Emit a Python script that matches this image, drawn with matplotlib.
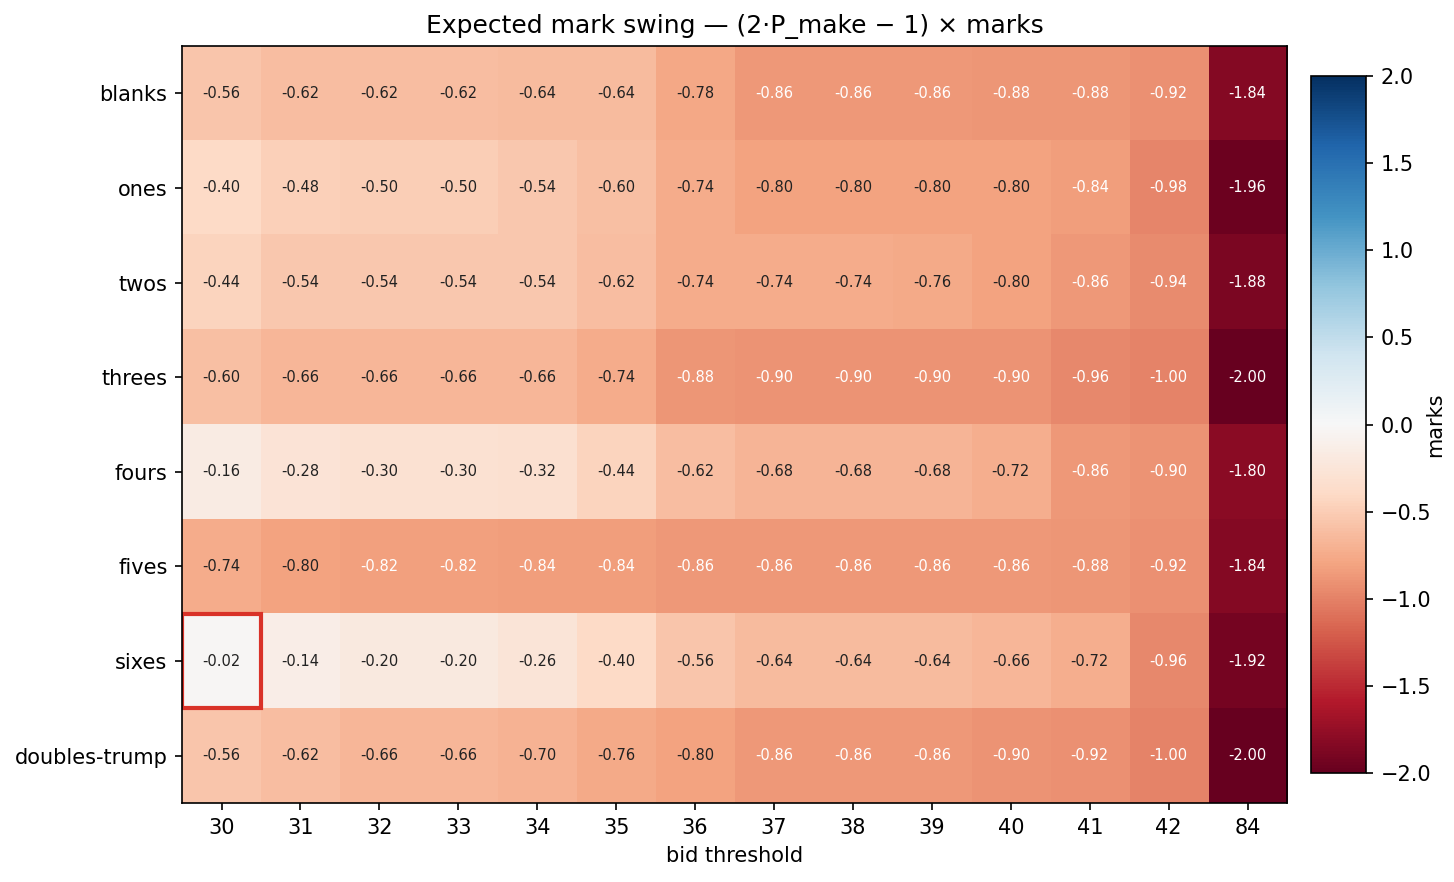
import matplotlib
matplotlib.use("Agg")
import matplotlib.pyplot as plt
import numpy as np
from matplotlib.patches import Rectangle

trumps = ["blanks", "ones", "twos", "threes", "fours", "fives", "sixes", "doubles-trump"]
thresholds = ["30", "31", "32", "33", "34", "35", "36", "37", "38", "39", "40", "41", "42", "84"]

blanks = [-0.56, -0.62, -0.62, -0.62, -0.64, -0.64, -0.78, -0.86, -0.86, -0.86, -0.88, -0.88, -0.92, -1.84]
ones = [-0.40, -0.48, -0.50, -0.50, -0.54, -0.60, -0.74, -0.80, -0.80, -0.80, -0.80, -0.84, -0.98, -1.96]
twos = [-0.44, -0.54, -0.54, -0.54, -0.54, -0.62, -0.74, -0.74, -0.74, -0.76, -0.80, -0.86, -0.94, -1.88]
threes = [-0.60, -0.66, -0.66, -0.66, -0.66, -0.74, -0.88, -0.90, -0.90, -0.90, -0.90, -0.96, -1.00, -2.00]
fours = [-0.16, -0.28, -0.30, -0.30, -0.32, -0.44, -0.62, -0.68, -0.68, -0.68, -0.72, -0.86, -0.90, -1.80]
fives = [-0.74, -0.80, -0.82, -0.82, -0.84, -0.84, -0.86, -0.86, -0.86, -0.86, -0.86, -0.88, -0.92, -1.84]
sixes = [-0.02, -0.14, -0.20, -0.20, -0.26, -0.40, -0.56, -0.64, -0.64, -0.64, -0.66, -0.72, -0.96, -1.92]
doubles_trump = [-0.56, -0.62, -0.66, -0.66, -0.70, -0.76, -0.80, -0.86, -0.86, -0.86, -0.90, -0.92, -1.00, -2.00]

highlight_row = "sixes"
highlight_col = "30"

data = np.array([blanks, ones, twos, threes, fours, fives, sixes, doubles_trump])

fig = plt.figure(figsize=(1454 / 150, 882 / 150), dpi=150)
ax = fig.add_axes([0.1252, 0.0896, 0.7600, 0.8583])
cax = fig.add_axes([0.9017, 0.1236, 0.0378, 0.7902])

im = ax.imshow(data, cmap="RdBu", vmin=-2, vmax=2, aspect="auto")

ax.set_xticks(range(len(thresholds)))
ax.set_xticklabels(thresholds)
ax.set_yticks(range(len(trumps)))
ax.set_yticklabels(trumps)
ax.set_xlabel("bid threshold")
ax.set_title("Expected mark swing \u2014 (2\u00b7P_make \u2212 1) \u00d7 marks")

for i in range(data.shape[0]):
    for j in range(data.shape[1]):
        v = data[i, j]
        color = "white" if abs(v) > 0.805 else "#222222"
        ax.text(j, i, f"{v:.2f}", ha="center", va="center", fontsize=7, color=color)

r = trumps.index(highlight_row)
c = thresholds.index(highlight_col)
ax.add_patch(Rectangle((c - 0.5, r - 0.5), 1, 1, fill=False, edgecolor="#d93228", linewidth=2))

cb = fig.colorbar(im, cax=cax)
cb.set_label("marks", labelpad=-3)
cb.set_ticks(np.arange(-2, 2.01, 0.5))

fig.savefig("out.png", dpi=150)
